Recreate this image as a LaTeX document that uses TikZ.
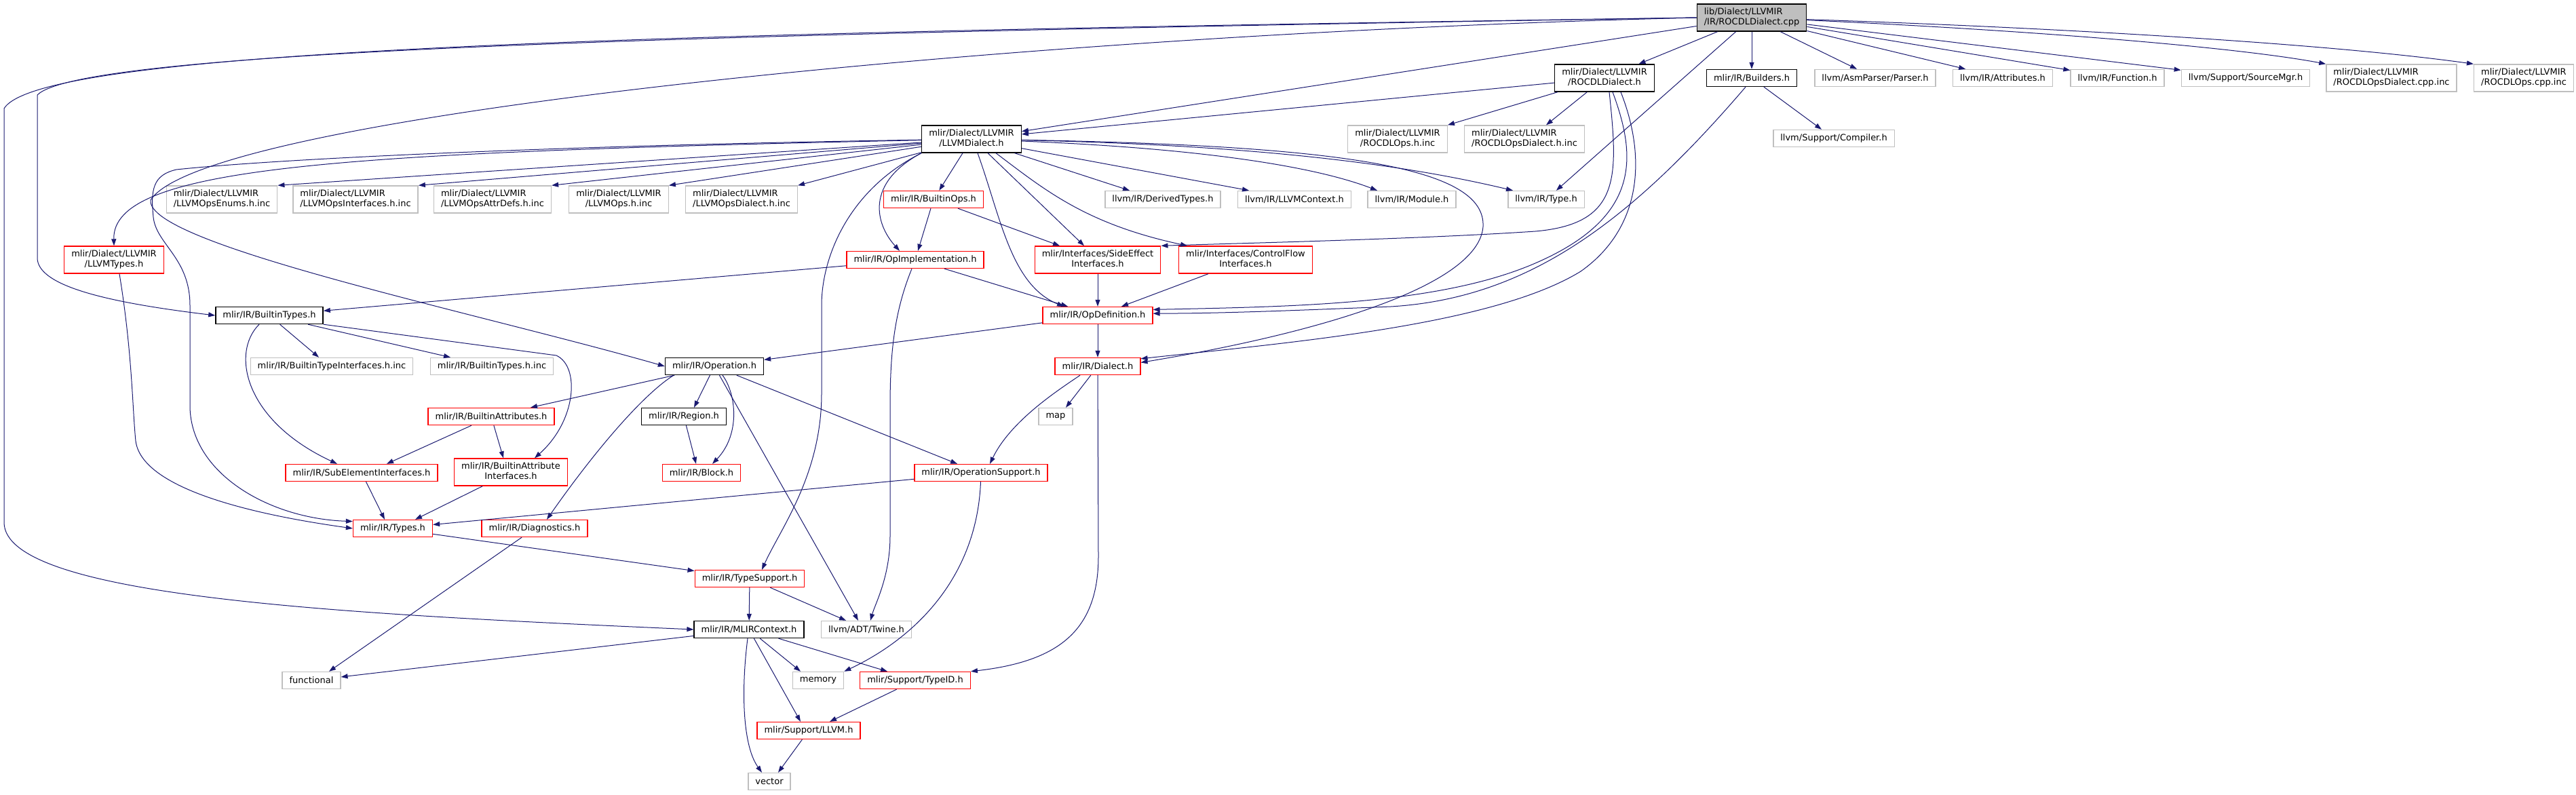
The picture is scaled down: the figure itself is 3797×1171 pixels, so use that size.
\documentclass[tikz,border=0pt]{standalone}
\usepackage{fontspec}
\setmainfont{DejaVu Sans}
\usepackage{xcolor}
\usepackage{tikz}
\usetikzlibrary{arrows.meta}
\definecolor{edgeblue}{HTML}{191970}
\definecolor{nodocgrey}{HTML}{BFBFBF}
\newlength\lineA
\newlength\lineB
% two-line label: first line flush left, second centred
\newcommand{\twolines}[2]{\settowidth{\lineA}{#1}\settowidth{\lineB}{#2}%
  \ifdim\lineB>\lineA\setlength{\lineA}{\lineB}\fi
  \begin{tabular}{@{}c@{}}\makebox[\lineA][l]{#1}\\#2\end{tabular}}

\begin{document}
\begin{tikzpicture}[x=1pt,y=-1pt,>={Triangle[length=10pt,width=7pt]},
  inc/.style={draw=black,fill=white,line width=1.4pt,inner xsep=10.5pt,inner ysep=5pt,
    minimum height=25pt,font=\fontsize{13}{15}\selectfont},
  incred/.style={inc,draw=red},
  incgrey/.style={inc,draw=nodocgrey},
  incroot/.style={inc,fill=nodocgrey},
  dep/.style={->,edgeblue,line width=1pt}]
  \useasboundingbox (0,0) rectangle (3797,1171);
  % source file and its direct includes
  \node[incroot] (root) at (2582,26) {\twolines{lib/Dialect/LLVMIR}{/IR/ROCDLDialect.cpp}};
  \node[inc] (rocdlh) at (2365,115) {\twolines{mlir/Dialect/LLVMIR}{/ROCDLDialect.h}};
  \node[inc] (builders) at (2582,115) {mlir/IR/Builders.h};
  \node[incgrey] (parser) at (2764,115) {llvm/AsmParser/Parser.h};
  \node[incgrey] (attrs) at (2952,115) {llvm/IR/Attributes.h};
  \node[incgrey] (function) at (3121,115) {llvm/IR/Function.h};
  \node[incgrey] (srcmgr) at (3310,115) {llvm/Support/SourceMgr.h};
  \node[incgrey] (opsdialcpp) at (3525,115) {\twolines{mlir/Dialect/LLVMIR}{/ROCDLOpsDialect.cpp.inc}};
  \node[incgrey] (opscpp) at (3720,115) {\twolines{mlir/Dialect/LLVMIR}{/ROCDLOps.cpp.inc}};
  % second level
  \node[incgrey] (rocdlopsinc) at (2060,205) {\twolines{mlir/Dialect/LLVMIR}{/ROCDLOps.h.inc}};
  \node[incgrey] (rocdldialinc) at (2247,205) {\twolines{mlir/Dialect/LLVMIR}{/ROCDLOpsDialect.h.inc}};
  \node[incgrey] (compiler) at (2703,204) {llvm/Support/Compiler.h};
  \node[inc] (llvmdialect) at (1432,205) {\twolines{mlir/Dialect/LLVMIR}{/LLVMDialect.h}};
  % LLVM dialect includes
  \node[incgrey] (enumsinc) at (327,294) {\twolines{mlir/Dialect/LLVMIR}{/LLVMOpsEnums.h.inc}};
  \node[incgrey] (ifaceinc) at (524,294) {\twolines{mlir/Dialect/LLVMIR}{/LLVMOpsInterfaces.h.inc}};
  \node[incgrey] (attrdefsinc) at (726,294) {\twolines{mlir/Dialect/LLVMIR}{/LLVMOpsAttrDefs.h.inc}};
  \node[incgrey] (opsinc) at (912,294) {\twolines{mlir/Dialect/LLVMIR}{/LLVMOps.h.inc}};
  \node[incgrey] (opsdialinc) at (1093,294) {\twolines{mlir/Dialect/LLVMIR}{/LLVMOpsDialect.h.inc}};
  \node[incred] (builtinops) at (1376,294) {mlir/IR/BuiltinOps.h};
  \node[incgrey] (derived) at (1714,294) {llvm/IR/DerivedTypes.h};
  \node[incgrey] (llvmctx) at (1908,294) {llvm/IR/LLVMContext.h};
  \node[incgrey] (module) at (2081,294) {llvm/IR/Module.h};
  \node[incgrey] (typeh) at (2279,294) {llvm/IR/Type.h};
  \node[incred] (llvmtypes) at (168,383) {\twolines{mlir/Dialect/LLVMIR}{/LLVMTypes.h}};
  \node[incred] (opimpl) at (1349,383) {mlir/IR/OpImplementation.h};
  \node[incred] (sideeff) at (1618,383) {\twolines{mlir/Interfaces/SideEffect}{Interfaces.h}};
  \node[incred] (ctrlflow) at (1836,383) {\twolines{mlir/Interfaces/ControlFlow}{Interfaces.h}};
  % IR core
  \node[inc] (builtintypes) at (397,465) {mlir/IR/BuiltinTypes.h};
  \node[incred] (opdef) at (1618,465) {mlir/IR/OpDefinition.h};
  \node[incgrey] (btifaceinc) at (489,540) {mlir/IR/BuiltinTypeInterfaces.h.inc};
  \node[incgrey] (btinc) at (725,540) {mlir/IR/BuiltinTypes.h.inc};
  \node[inc] (operation) at (1053,540) {mlir/IR/Operation.h};
  \node[incred] (dialect) at (1618,540) {mlir/IR/Dialect.h};
  \node[incred] (battrs) at (724,614) {mlir/IR/BuiltinAttributes.h};
  \node[inc] (region) at (1008,614) {mlir/IR/Region.h};
  \node[incgrey] (map) at (1556,614) {map};
  \node[incred] (subel) at (533,697) {mlir/IR/SubElementInterfaces.h};
  \node[incred] (battrif) at (753,696) {\twolines{mlir/IR/BuiltinAttribute}{Interfaces.h}};
  \node[incred] (block) at (1034,697) {mlir/IR/Block.h};
  \node[incred] (opsupport) at (1446,697) {mlir/IR/OperationSupport.h};
  \node[incred] (types) at (579,779) {mlir/IR/Types.h};
  \node[incred] (diag) at (788,779) {mlir/IR/Diagnostics.h};
  \node[incred] (typesupport) at (1105,853) {mlir/IR/TypeSupport.h};
  \node[inc] (mlirctx) at (1104,928) {mlir/IR/MLIRContext.h};
  \node[incgrey] (twine) at (1277,928) {llvm/ADT/Twine.h};
  \node[incgrey] (functional) at (459,1003) {functional};
  \node[incgrey] (memory) at (1206,1003) {memory};
  \node[incred] (typeid) at (1349,1003) {mlir/Support/TypeID.h};
  \node[incred] (llvmh) at (1192,1077) {mlir/Support/LLVM.h};
  \node[incgrey] (vector) at (1134,1152) {vector};

  % edges from the source file
  \draw[dep] (root) -- (rocdlh);
  \draw[dep] (root) -- (builders);
  \draw[dep] (root) -- (parser);
  \draw[dep] (root) -- (attrs);
  \draw[dep] (root) -- (function);
  \draw[dep] (root) -- (srcmgr);
  \draw[dep] (root) .. controls (3000,45) and (3300,70) .. (opsdialcpp.north west);
  \draw[dep] (root) .. controls (2950,38) and (3400,60) .. (opscpp.north west);
  \draw[dep] (root) -- (llvmdialect);
  \draw[dep] (root) -- (typeh);
  \draw[dep] (root.west) .. controls (1000,50) and (120,75) .. (55,140) -- (55,380)
    .. controls (55,420) and (150,445) .. (builtintypes.west);
  \draw[dep] (root.west) .. controls (1000,48) and (60,70) .. (6,160) -- (6,770)
    .. controls (6,880) and (500,905) .. (mlirctx.west);
  \draw[dep] (root.west) .. controls (1500,50) and (300,170) .. (222,295)
    .. controls (215,360) and (700,460) .. (operation.west);

  % ROCDLDialect.h and Builders.h
  \draw[dep] (rocdlh) -- (rocdlopsinc.north east);
  \draw[dep] (rocdlh) -- ([xshift=32pt]rocdldialinc.north);
  \draw[dep] (rocdlh) -- (llvmdialect);
  \draw[dep] ([xshift=7pt]rocdlh.south) .. controls (2385,260) and (2390,330) .. (2263,341)
    .. controls (2100,352) and (1850,358) .. (sideeff.north east);
  \draw[dep] ([xshift=12pt]rocdlh.south) .. controls (2412,230) and (2420,320) .. (2263,388)
    .. controls (2120,450) and (1900,452) .. (opdef.6);
  \draw[dep] ([xshift=24pt]rocdlh.south) .. controls (2430,240) and (2415,340) .. (2330,400)
    .. controls (2200,480) and (1900,505) .. (dialect.10);
  \draw[dep] (builders) -- ([xshift=-18pt]compiler.north);
  \draw[dep] ([xshift=-9pt]builders.south) .. controls (2400,330) and (2250,440) .. (2050,452)
    .. controls (1900,458) and (1800,462) .. (opdef.2);

  % LLVMDialect.h
  \draw[dep] (llvmdialect) -- (enumsinc.north east);
  \draw[dep] (llvmdialect) -- (ifaceinc.north east);
  \draw[dep] (llvmdialect) -- (attrdefsinc.north east);
  \draw[dep] (llvmdialect) -- (opsinc.north east);
  \draw[dep] (llvmdialect) -- (opsdialinc.north east);
  \draw[dep] (llvmdialect) .. controls (500,225) and (165,245) .. (llvmtypes.north);
  \draw[dep] (llvmdialect) .. controls (800,215) and (400,235) .. (260,250)
    .. controls (225,258) and (222,280) .. (226,320)
    .. controls (230,360) and (280,380) .. (280,450) -- (280,600)
    .. controls (282,700) and (400,765) .. (types.170);
  \draw[dep] (llvmdialect) -- (builtinops);
  \draw[dep] (llvmdialect.south west) .. controls (1275,270) and (1290,330) .. ([xshift=-23pt]opimpl.north);
  \draw[dep] (llvmdialect.south west) .. controls (1250,280) and (1211,380) .. (1211,450) -- (1211,580)
    .. controls (1211,700) and (1150,780) .. ([xshift=18pt]typesupport.north);
  \draw[dep] ([xshift=9pt]llvmdialect.south) .. controls (1475,320) and (1490,420) .. ([xshift=-50pt]opdef.north);
  \draw[dep] ([xshift=24pt]llvmdialect.south) -- ([xshift=-20pt]sideeff.north);
  \draw[dep] ([xshift=36pt]llvmdialect.south) .. controls (1540,280) and (1600,330) .. ([xshift=-86pt]ctrlflow.north);
  \draw[dep] (llvmdialect) -- ([xshift=-49pt]derived.north);
  \draw[dep] (llvmdialect) -- ([xshift=-67pt]llvmctx.north);
  \draw[dep] (llvmdialect) .. controls (1800,220) and (1950,250) .. ([xshift=-51pt]module.north);
  \draw[dep] (llvmdialect) .. controls (1900,215) and (2100,250) .. ([xshift=-49pt]typeh.north);
  \draw[dep] (llvmdialect) .. controls (2000,215) and (2190,250) .. (2186,334)
    .. controls (2180,420) and (1950,490) .. (dialect.5);

  % ops and interfaces
  \draw[dep] (builtinops) -- ([xshift=4pt]opimpl.north);
  \draw[dep] (builtinops) -- ([xshift=-56pt]sideeff.north);
  \draw[dep] (opimpl) -- ([xshift=-44pt]opdef.north);
  \draw[dep] (opimpl) -- (builtintypes);
  \draw[dep] ([xshift=-5pt]opimpl.south) .. controls (1318,460) and (1312,520) .. (1312,600) -- (1312,790)
    .. controls (1312,850) and (1290,890) .. ([xshift=6pt]twine.north);
  \draw[dep] (sideeff) -- (opdef);
  \draw[dep] (ctrlflow) -- ([xshift=35pt]opdef.north);
  \draw[dep] (opdef) -- (operation);
  \draw[dep] (opdef) -- (dialect);

  % Dialect.h
  \draw[dep] (dialect) -- ([xshift=15pt]map.north);
  \draw[dep] ([xshift=-26pt]dialect.south) .. controls (1560,575) and (1490,620) .. ([xshift=13pt]opsupport.north);
  \draw[dep] (dialect) -- (1619,820) .. controls (1619,930) and (1560,975) .. (typeid.north east);

  % Operation.h
  \draw[dep] (operation) -- ([xshift=58pt]battrs.north);
  \draw[dep] ([xshift=-60pt]operation.south) .. controls (950,580) and (880,660) .. ([xshift=18pt]diag.north);
  \draw[dep] (operation) -- ([xshift=15pt]region.north);
  \draw[dep] ([xshift=12pt]operation.south) .. controls (1085,580) and (1092,640) .. ([xshift=16pt]block.north);
  \draw[dep] (operation) -- ([xshift=-12pt]twine.north);
  \draw[dep] (operation) -- ([xshift=-35pt]opsupport.north);
  \draw[dep] (region) -- ([xshift=-8pt]block.north);

  % BuiltinTypes.h and attributes
  \draw[dep] (builtintypes) -- ([xshift=-19pt]btifaceinc.north);
  \draw[dep] (builtintypes) -- ([xshift=-61pt]btinc.north);
  \draw[dep] ([xshift=-15pt]builtintypes.south) .. controls (340,520) and (360,620) .. ([xshift=-36pt]subel.north);
  \draw[dep] (builtintypes.south east) -- (820,524) .. controls (855,540) and (850,620) .. ([xshift=35pt]battrif.north);
  \draw[dep] (battrs) -- ([xshift=37pt]subel.north);
  \draw[dep] (battrs) -- ([xshift=-11pt]battrif.north);
  \draw[dep] (subel) -- ([xshift=-12pt]types.north);
  \draw[dep] (battrif) -- ([xshift=33pt]types.north);
  \draw[dep] ([xshift=8pt]llvmtypes.south) .. controls (195,520) and (195,600) .. (200,650)
    .. controls (210,730) and (420,765) .. (types.west);
  \draw[dep] (opsupport) -- (types);
  \draw[dep] (opsupport) .. controls (1440,850) and (1350,940) .. (memory.north east);
  \draw[dep] (types) -- (typesupport);
  \draw[dep] (diag) -- ([xshift=26pt]functional.north);

  % context and support
  \draw[dep] (typesupport) -- (mlirctx);
  \draw[dep] (typesupport) -- ([xshift=-30pt]twine.north);
  \draw[dep] (mlirctx) -- (functional);
  \draw[dep] (mlirctx) -- ([xshift=-26pt]memory.north);
  \draw[dep] (mlirctx) -- ([xshift=-41pt]typeid.north);
  \draw[dep] (mlirctx) -- ([xshift=-12pt]llvmh.north);
  \draw[dep] ([xshift=-2pt]mlirctx.south) .. controls (1092,1020) and (1095,1100) .. ([xshift=-11pt]vector.north);
  \draw[dep] (typeid) -- ([xshift=31pt]llvmh.north);
  \draw[dep] (llvmh) -- ([xshift=13pt]vector.north);
\end{tikzpicture}
\end{document}
